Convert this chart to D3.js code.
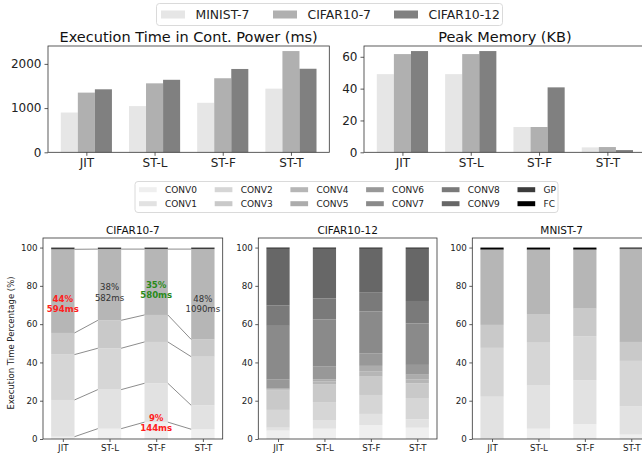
<!DOCTYPE html>
<html>
<head>
<meta charset="utf-8">
<script src="https://cdn.jsdelivr.net/npm/d3@7"></script>
<style>
  html, body { margin: 0; padding: 0; background: #fff; }
  svg { display: block; font-family: "DejaVu Sans", sans-serif; }
</style>
</head>
<body>
<svg id="chart" width="642" height="460"></svg>
<script>
// ---------- DATA ----------
const methods = ["JIT", "ST-L", "ST-F", "ST-T"];
const models = ["MINIST-7", "CIFAR10-7", "CIFAR10-12"];
const modelColors = ["#e6e6e6", "#b0b0b0", "#808080"];

const execTime = {          // ms, per model, per method
  "MINIST-7":   [900, 1045, 1120, 1440],
  "CIFAR10-7":  [1350, 1560, 1675, 2290],
  "CIFAR10-12": [1425, 1640, 1885, 1890]
};
const peakMemory = {        // KB
  "MINIST-7":   [49.1, 49.1, 15.9, 3.1],
  "CIFAR10-7":  [61.7, 61.7, 15.9, 3.3],
  "CIFAR10-12": [63.6, 63.6, 40.8, 1.4]
};
const execTicks = [0, 1000, 2000];
const memTicks = [0, 20, 40, 60];
const pctTicks = [0, 20, 40, 60, 80, 100];

const layers = ["CONV0","CONV1","CONV2","CONV3","CONV4","CONV5","CONV6","CONV7","CONV8","CONV9","GP","FC"];
const layerColors = ["#efefef","#e2e2e2","#d6d6d6","#c9c9c9","#b6b6b6","#acacac","#989898","#8a8a8a","#7a7a7a","#676767","#3c3c3c","#000000"];

// percentage of execution time per layer, per method
const cifar7Layers = ["CONV0","CONV1","CONV2","CONV3","CONV4","GP","FC"];
const cifar7Pct = [
  [1.2, 19.2, 23.7, 11.3, 43.7, 0.8, 0.1],
  [5.4, 20.4, 21.6, 14.6, 37.2, 0.7, 0.1],
  [8.8, 20.3, 21.6, 14.1, 34.4, 0.7, 0.1],
  [5.1, 12.5, 25.4, 9.0, 47.2, 0.7, 0.1]
];
const cifar12Layers = ["CONV0","CONV1","CONV2","CONV3","CONV4","CONV5","CONV6","CONV7","CONV8","CONV9","GP","FC"];
const cifar12Pct = [
  [4.4, 1.5, 9.3, 10.1, 0.5, 0.5, 4.7, 28.1, 10.6, 29.6, 0.5, 0.2],
  [5.4, 4.5, 9.4, 9.4, 1.3, 1.2, 6.6, 24.6, 11.0, 25.9, 0.5, 0.2],
  [7.3, 5.8, 9.9, 9.6, 2.8, 2.8, 6.6, 21.8, 10.1, 22.6, 0.5, 0.2],
  [5.9, 4.4, 11.1, 7.7, 2.1, 2.4, 5.1, 21.7, 11.7, 27.2, 0.5, 0.2]
];
const mnist7Layers = ["CONV0","CONV1","CONV2","CONV3","CONV4","GP","FC"];
const mnist7Pct = [
  [0.3, 21.8, 25.5, 12.0, 39.2, 0.3, 0.9],
  [5.4, 22.5, 22.4, 15.0, 33.5, 0.3, 0.9],
  [7.8, 23.0, 22.9, 14.4, 30.7, 0.3, 0.9],
  [2.3, 14.9, 23.6, 9.9, 48.5, 0.4, 0.4]
];

// annotations on CIFAR10-7 panel: method index, value (data units), lines, colour, bold
const annMethod = [0, 1, 2, 3, 2];
const annValue  = [70.6, 76.8, 78.0, 70.6, 8.6];
const annLines  = [["44%","594ms"],["38%","582ms"],["35%","580ms"],["48%","1090ms"],["9%","144ms"]];
const annColor  = ["#ff2020", "#333333", "#2a8a1a", "#333333", "#ff2020"];
const annBold   = [true, false, true, false, true];

// ---------- DRAW ----------
const svg = d3.select("#chart");
const axisColor = "#333";

function styleAxis(g, fs) {
  g.selectAll("path").attr("stroke", "none");
  g.selectAll("line").attr("stroke", axisColor).attr("stroke-width", 0.8);
  g.selectAll("text").attr("fill", "#222").style("font-size", fs + "px").style("font-family", "DejaVu Sans");
}
function frame(x0, x1, y0, y1) {
  svg.append("rect").attr("x", x0).attr("y", y0).attr("width", x1 - x0).attr("height", y1 - y0)
    .attr("fill", "none").attr("stroke", axisColor).attr("stroke-width", 0.8);
}

// Top grouped bar charts
function groupedBars(left, right, top, bottom, dataObj, ticks, title) {
  const maxV = d3.max(models, m => d3.max(dataObj[m]));
  const x = d3.scaleLinear().domain([-0.5625, 3.5625]).range([left, right]);
  const y = d3.scaleLinear().domain([0, maxV * 1.05]).range([bottom, top]);
  const bw = 0.25;
  models.forEach((m, mi) => {
    svg.append("g").selectAll("rect").data(dataObj[m]).join("rect")
      .attr("x", (d, i) => x(i + (mi - 1) * bw - bw / 2))
      .attr("width", x(bw) - x(0))
      .attr("y", d => y(d))
      .attr("height", d => y(0) - y(d))
      .attr("fill", modelColors[mi]);
  });
  frame(left, right, top, bottom);
  const gy = svg.append("g").attr("transform", `translate(${left},0)`)
    .call(d3.axisLeft(y).tickValues(ticks).tickSize(3.5).tickPadding(3).tickFormat(d3.format("d")));
  styleAxis(gy, 12);
  const gx = svg.append("g").attr("transform", `translate(0,${bottom})`)
    .call(d3.axisBottom(x).tickValues(d3.range(methods.length)).tickSize(3.5).tickPadding(3).tickFormat(i => methods[i]));
  styleAxis(gx, 12);
  svg.append("text").attr("x", (left + right) / 2).attr("y", top - 4.5)
    .attr("text-anchor", "middle").style("font-size", "14.5px").attr("fill", "#111").text(title);
}
groupedBars(48, 329.3, 46, 152.3, execTime, execTicks, "Execution Time in Cont. Power (ms)");
groupedBars(364, 645.8, 46, 152.3, peakMemory, memTicks, "Peak Memory (KB)");

// Top legend
(function () {
  const g = svg.append("g");
  g.append("rect").attr("x", 156.5).attr("y", 3.5).attr("width", 346).attr("height", 22).attr("rx", 3)
    .attr("fill", "#fff").attr("stroke", "#d0d0d0").attr("stroke-width", 0.8);
  const xs = [161, 273, 394];
  models.forEach((m, i) => {
    g.append("rect").attr("x", xs[i]).attr("y", 10.5).attr("width", 24).attr("height", 8).attr("fill", modelColors[i]);
    g.append("text").attr("x", xs[i] + 34.5).attr("y", 19).style("font-size", "12.4px").attr("fill", "#222").text(m);
  });
})();

// Middle legend
(function () {
  const g = svg.append("g");
  g.append("rect").attr("x", 135).attr("y", 181.5).attr("width", 423).attr("height", 31).attr("rx", 3)
    .attr("fill", "#fff").attr("stroke", "#d0d0d0").attr("stroke-width", 0.8);
  layers.forEach((l, i) => {
    const col = Math.floor(i / 2), row = i % 2;
    const x0 = 139 + col * 75.7, yc = 189.7 + row * 14;
    g.append("rect").attr("x", x0).attr("y", yc - 2.5).attr("width", 17.7).attr("height", 5).attr("fill", layerColors[layers.indexOf(l)]);
    g.append("text").attr("x", x0 + 26).attr("y", yc + 3.3).style("font-size", "9px").attr("fill", "#222").text(l);
  });
})();

// Bottom stacked percentage charts
function stacked(left, right, top, bottom, layerNames, pct, title, opts) {
  const x = d3.scaleLinear().domain([-0.425, 3.425]).range([left, right]);
  const y = d3.scaleLinear().domain([0, 105]).range([bottom, top]);
  const bw = 0.5;
  const rows = pct.map((vals, i) => {
    const o = { idx: i };
    layerNames.forEach((l, j) => o[l] = vals[j]);
    return o;
  });
  const series = d3.stack().keys(layerNames)(rows);
  const g = svg.append("g");
  series.forEach(s => {
    g.append("g").selectAll("rect").data(s).join("rect")
      .attr("x", d => x(d.data.idx - bw / 2))
      .attr("width", x(bw) - x(0))
      .attr("y", d => y(d[1]))
      .attr("height", d => Math.max(0, y(d[0]) - y(d[1])))
      .attr("fill", layerColors[layers.indexOf(s.key)]);
  });
  if (opts && opts.connect) {
    series.slice(0, opts.connect).forEach(s => {
      for (let i = 0; i < s.length - 1; i++) {
        g.append("line")
          .attr("x1", x(i + bw / 2)).attr("y1", y(s[i][1]))
          .attr("x2", x(i + 1 - bw / 2)).attr("y2", y(s[i + 1][1]))
          .attr("stroke", "#5a5a5a").attr("stroke-width", 0.7);
      }
    });
  }
  frame(left, right, top, bottom);
  const gy = svg.append("g").attr("transform", `translate(${left},0)`)
    .call(d3.axisLeft(y).tickValues(pctTicks).tickSize(3).tickPadding(2.5));
  styleAxis(gy, 8.7);
  const gx = svg.append("g").attr("transform", `translate(0,${bottom})`)
    .call(d3.axisBottom(x).tickValues(d3.range(methods.length)).tickSize(3).tickPadding(2.5).tickFormat(i => methods[i]));
  styleAxis(gx, 8.7);
  svg.append("text").attr("x", (left + right) / 2).attr("y", top - 4.5)
    .attr("text-anchor", "middle").style("font-size", "10.5px").attr("fill", "#111").text(title);
  return { x, y };
}
const p1 = stacked(43, 222.7, 238, 439, cifar7Layers, cifar7Pct, "CIFAR10-7", { connect: 5 });
stacked(258.3, 437, 238, 439, cifar12Layers, cifar12Pct, "CIFAR10-12");
stacked(472.3, 651, 238, 439, mnist7Layers, mnist7Pct, "MNIST-7");

// y label
svg.append("text").attr("transform", `translate(14,343) rotate(-90)`)
  .attr("text-anchor", "middle").style("font-size", "8.5px").attr("fill", "#222")
  .text("Execution Time Percentage (%)");

// annotations
annMethod.forEach((mi, k) => {
  const t = svg.append("text").attr("text-anchor", "middle")
    .style("font-size", "8.6px").style("font-weight", annBold[k] ? "bold" : "normal")
    .attr("fill", annColor[k]);
  const cx = p1.x(mi), cy = p1.y(annValue[k]);
  t.append("tspan").attr("x", cx).attr("y", cy - 2).text(annLines[k][0]);
  t.append("tspan").attr("x", cx).attr("y", cy + 8.6).text(annLines[k][1]);
});
</script>
</body>
</html>
